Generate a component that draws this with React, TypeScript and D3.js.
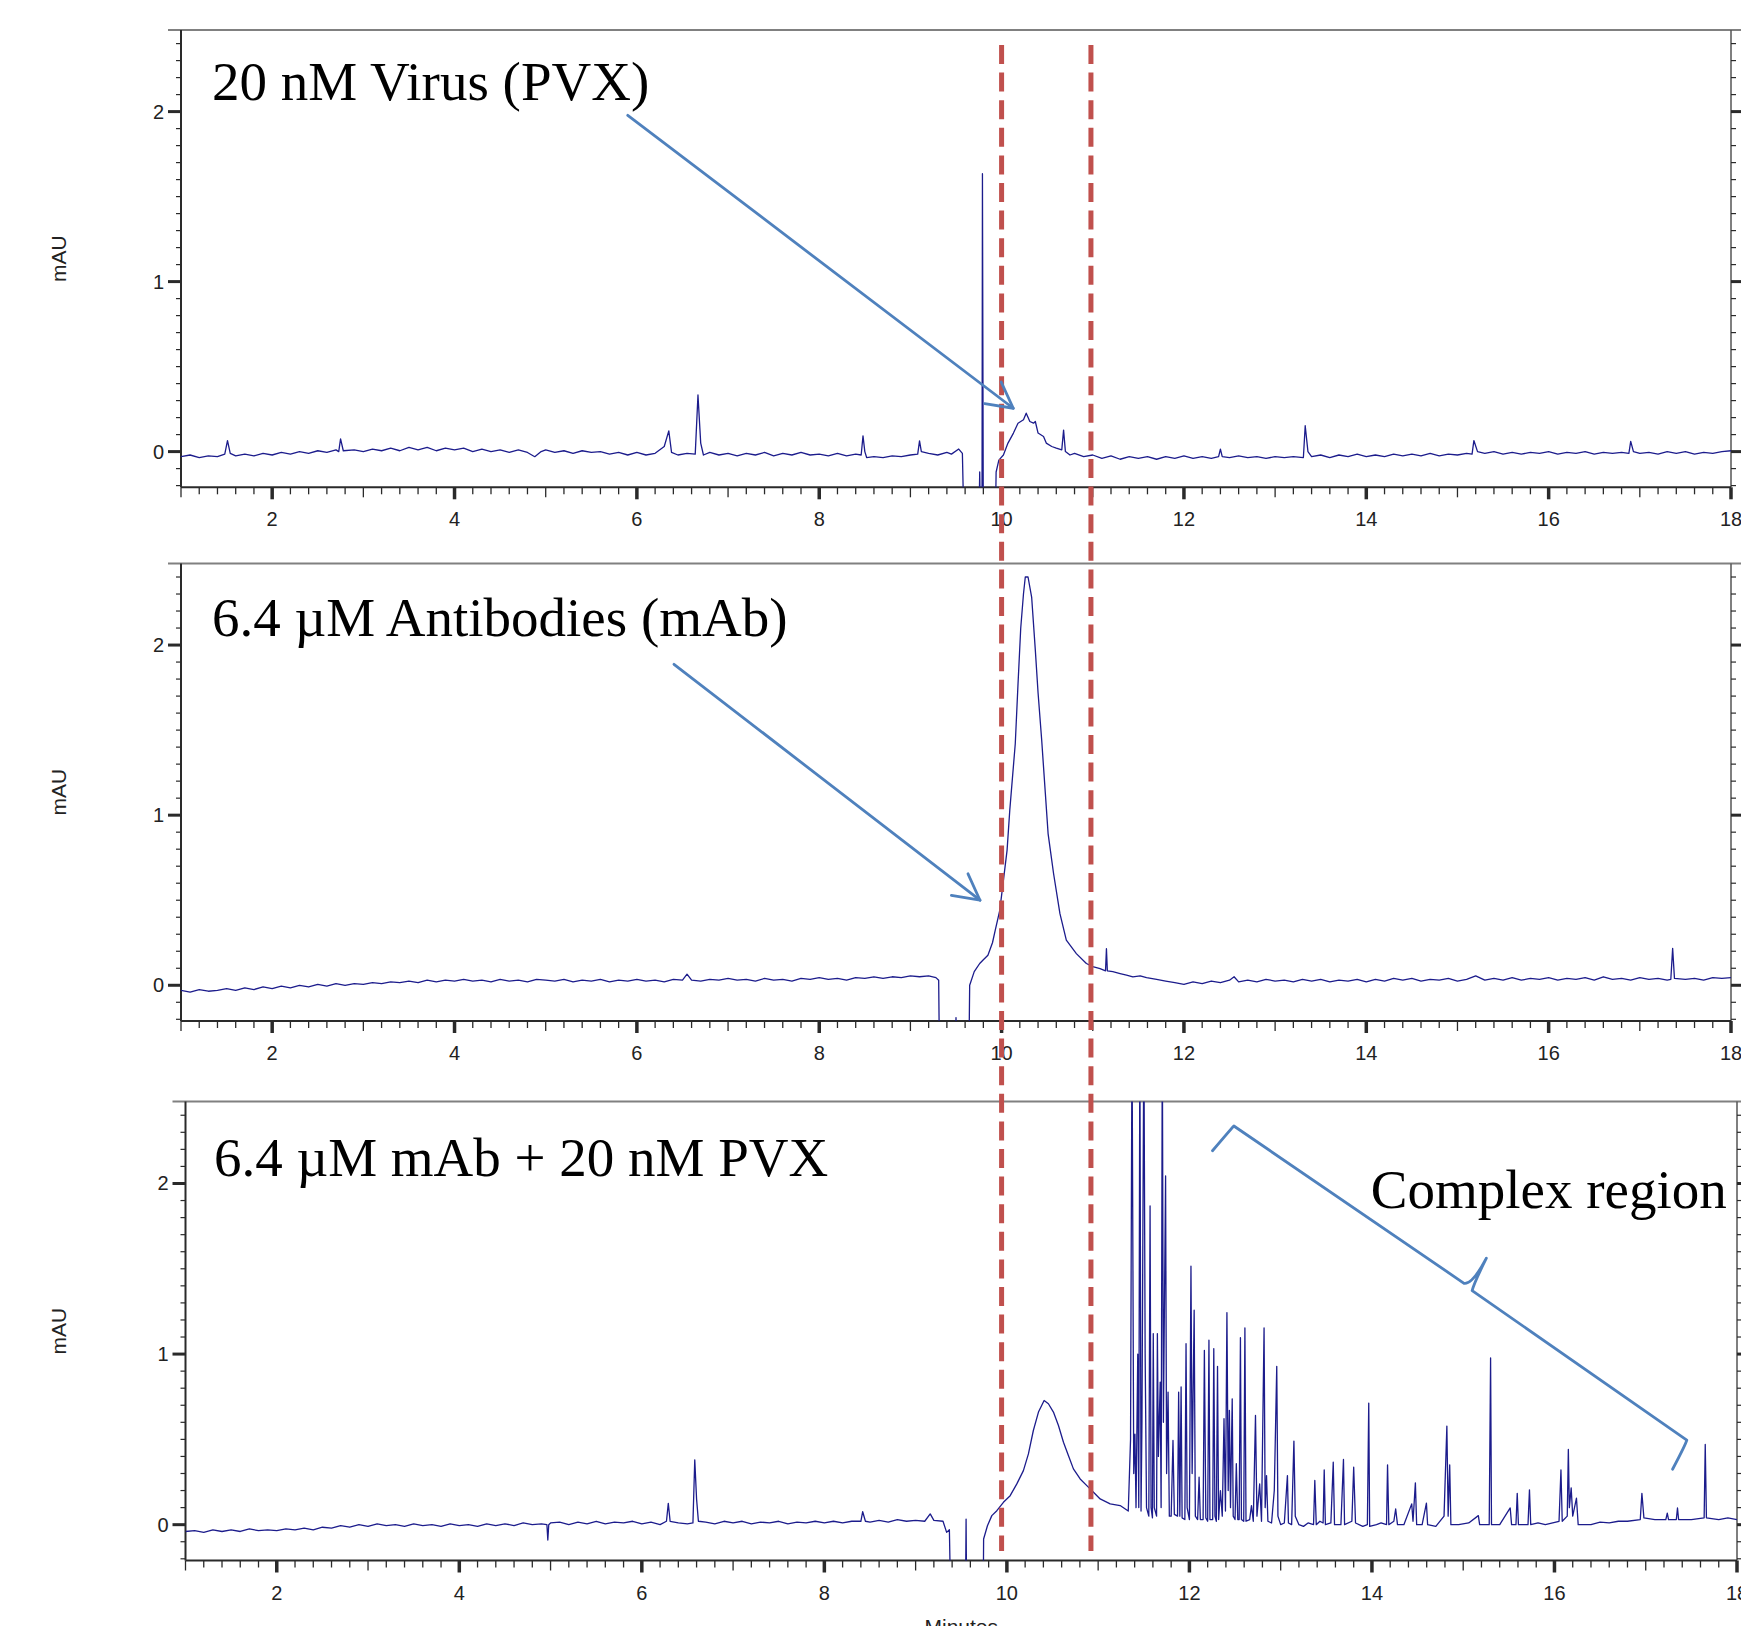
import React from "react"
import * as d3 from "d3"

const WIDTH = 1741
const HEIGHT = 1626

// retention time (min), absorbance (mAU)
const virusTrace: [number, number][] = [
  [1.0,-0.03],[1.1,-0.02],[1.2,-0.035],[1.3,-0.025],[1.4,-0.03],[1.48,-0.015],[1.51,0.065],[1.54,-0.01],[1.6,-0.025],[1.7,-0.015],
  [1.8,-0.025],[1.9,-0.01],[2.0,-0.02],[2.1,-0.005],[2.2,-0.015],[2.3,0.0],[2.4,-0.01],[2.5,0.005],[2.6,-0.005],[2.7,0.01],
  [2.73,0.0],[2.75,0.075],[2.78,0.005],[2.9,0.01],[3.0,0.0],[3.1,0.015],[3.2,0.005],[3.3,0.02],[3.4,0.005],[3.5,0.025],
  [3.6,0.01],[3.7,0.025],[3.8,0.005],[3.9,0.02],[4.0,0.01],[4.1,0.02],[4.2,0.0],[4.3,0.015],[4.4,0.0],[4.5,0.01],
  [4.6,-0.005],[4.7,0.01],[4.8,-0.005],[4.88,-0.03],[4.95,0.0],[5.0,0.01],[5.1,-0.005],[5.2,0.005],[5.3,-0.01],[5.4,0.005],
  [5.5,-0.005],[5.6,0.0],[5.7,-0.015],[5.8,-0.005],[5.9,-0.02],[6.0,-0.005],[6.1,-0.02],[6.2,-0.01],[6.3,0.03],[6.35,0.122],
  [6.38,-0.005],[6.45,-0.02],[6.55,-0.01],[6.64,-0.015],[6.67,0.333],[6.7,0.05],[6.73,-0.02],[6.8,-0.005],[6.9,-0.02],[7.0,-0.01],
  [7.1,-0.025],[7.2,-0.01],[7.3,-0.02],[7.4,-0.005],[7.5,-0.025],[7.6,-0.01],[7.7,-0.02],[7.8,-0.005],[7.9,-0.02],[8.0,-0.015],
  [8.1,-0.025],[8.2,-0.01],[8.3,-0.025],[8.4,-0.015],[8.46,-0.02],[8.48,0.093],[8.5,0.0],[8.52,-0.035],[8.6,-0.03],[8.7,-0.035],
  [8.8,-0.025],[8.9,-0.03],[9.0,-0.02],[9.08,-0.015],[9.1,0.063],[9.12,0.0],[9.2,-0.01],[9.3,-0.02],[9.4,-0.005],[9.45,-0.015],
  [9.53,0.015],[9.57,-0.01],[9.59,-0.5],[9.75,-0.5],[9.76,-0.12],[9.77,-0.5],[9.785,-0.5],[9.79,1.635],[9.8,-0.5],[9.93,-0.5],
  [9.94,-0.12],[9.97,-0.05],[10.02,-0.02],[10.07,0.05],[10.13,0.109],[10.18,0.167],[10.24,0.187],[10.27,0.226],[10.31,0.177],[10.35,0.167],
  [10.37,0.177],[10.4,0.109],[10.46,0.089],[10.49,0.05],[10.55,0.03],[10.6,0.02],[10.66,0.01],[10.68,0.126],[10.7,0.0],[10.75,-0.02],
  [10.8,-0.01],[10.9,-0.03],[11.0,-0.02],[11.1,-0.04],[11.2,-0.025],[11.3,-0.045],[11.4,-0.03],[11.5,-0.04],[11.6,-0.03],[11.7,-0.045],
  [11.8,-0.03],[11.9,-0.04],[12.0,-0.025],[12.1,-0.04],[12.2,-0.03],[12.3,-0.04],[12.38,-0.03],[12.4,0.014],[12.42,-0.03],[12.5,-0.035],
  [12.6,-0.025],[12.7,-0.035],[12.8,-0.03],[12.9,-0.04],[13.0,-0.03],[13.1,-0.035],[13.2,-0.03],[13.31,-0.035],[13.33,0.152],[13.36,0.0],
  [13.4,-0.03],[13.5,-0.02],[13.6,-0.035],[13.7,-0.02],[13.8,-0.03],[13.9,-0.015],[14.0,-0.03],[14.1,-0.02],[14.2,-0.03],[14.3,-0.015],
  [14.4,-0.025],[14.5,-0.015],[14.6,-0.025],[14.7,-0.01],[14.8,-0.025],[14.9,-0.015],[15.0,-0.02],[15.1,-0.01],[15.16,-0.015],[15.18,0.065],
  [15.22,0.0],[15.3,-0.01],[15.4,0.0],[15.5,-0.015],[15.6,-0.005],[15.7,-0.015],[15.8,-0.005],[15.9,-0.01],[16.0,0.0],[16.1,-0.015],
  [16.2,-0.005],[16.3,-0.01],[16.4,0.0],[16.5,-0.015],[16.6,-0.005],[16.7,-0.01],[16.8,-0.005],[16.88,-0.01],[16.9,0.06],[16.93,0.0],
  [17.0,-0.01],[17.1,-0.005],[17.2,-0.015],[17.3,0.0],[17.4,-0.01],[17.5,0.0],[17.6,-0.015],[17.7,-0.005],[17.8,-0.01],[17.9,0.0],[18.0,0.005],
]

const antibodyTrace: [number, number][] = [
  [1.0,-0.03],[1.1,-0.04],[1.2,-0.025],[1.3,-0.035],[1.4,-0.03],[1.5,-0.02],[1.6,-0.03],[1.7,-0.015],[1.8,-0.025],[1.9,-0.01],
  [2.0,-0.02],[2.1,-0.005],[2.2,-0.015],[2.3,0.0],[2.4,-0.01],[2.5,0.005],[2.6,-0.005],[2.7,0.01],[2.8,0.0],[2.9,0.01],
  [3.0,0.005],[3.1,0.015],[3.2,0.01],[3.3,0.02],[3.4,0.015],[3.5,0.025],[3.6,0.015],[3.7,0.03],[3.8,0.02],[3.9,0.03],
  [4.0,0.025],[4.1,0.035],[4.2,0.025],[4.3,0.03],[4.4,0.02],[4.5,0.035],[4.6,0.025],[4.7,0.03],[4.8,0.02],[4.9,0.035],
  [5.0,0.03],[5.1,0.025],[5.2,0.035],[5.3,0.02],[5.4,0.03],[5.5,0.025],[5.6,0.035],[5.7,0.02],[5.8,0.03],[5.9,0.025],
  [6.0,0.035],[6.1,0.025],[6.2,0.03],[6.3,0.02],[6.4,0.035],[6.5,0.03],[6.55,0.065],[6.6,0.03],[6.7,0.025],[6.8,0.035],
  [6.9,0.03],[7.0,0.04],[7.1,0.03],[7.2,0.035],[7.3,0.025],[7.4,0.04],[7.5,0.03],[7.6,0.035],[7.7,0.025],[7.8,0.04],
  [7.9,0.035],[8.0,0.045],[8.1,0.035],[8.2,0.04],[8.3,0.03],[8.4,0.045],[8.5,0.04],[8.6,0.05],[8.7,0.04],[8.8,0.05],
  [8.9,0.045],[9.0,0.055],[9.1,0.05],[9.2,0.055],[9.28,0.045],[9.31,0.03],[9.32,-0.5],[9.49,-0.5],[9.5,-0.19],[9.51,-0.5],
  [9.64,-0.5],[9.65,0.0],[9.7,0.08],[9.76,0.128],[9.8,0.15],[9.85,0.176],[9.9,0.25],[9.93,0.323],[9.98,0.44],[10.02,0.617],
  [10.06,0.793],[10.09,1.03],[10.15,1.42],[10.18,1.77],[10.21,2.1],[10.24,2.3],[10.26,2.4],[10.29,2.4],[10.33,2.28],[10.37,1.97],
  [10.4,1.72],[10.44,1.44],[10.48,1.127],[10.51,0.892],[10.57,0.657],[10.64,0.421],[10.71,0.265],[10.82,0.186],[10.93,0.128],[11.0,0.11],
  [11.08,0.098],[11.14,0.085],[11.15,0.215],[11.16,0.085],[11.22,0.08],[11.3,0.069],[11.37,0.06],[11.44,0.05],[11.52,0.055],[11.59,0.045],
  [11.7,0.035],[11.8,0.025],[11.9,0.015],[12.0,0.005],[12.1,0.02],[12.2,0.01],[12.3,0.025],[12.4,0.015],[12.5,0.03],[12.55,0.05],
  [12.6,0.02],[12.7,0.03],[12.8,0.02],[12.9,0.035],[13.0,0.025],[13.1,0.03],[13.2,0.02],[13.3,0.035],[13.4,0.025],[13.5,0.035],
  [13.6,0.02],[13.7,0.03],[13.8,0.025],[13.9,0.035],[14.0,0.02],[14.1,0.035],[14.2,0.025],[14.3,0.04],[14.4,0.03],[14.5,0.04],
  [14.6,0.025],[14.7,0.035],[14.8,0.03],[14.9,0.04],[15.0,0.025],[15.1,0.035],[15.2,0.055],[15.3,0.03],[15.4,0.04],[15.5,0.03],
  [15.6,0.045],[15.7,0.03],[15.8,0.04],[15.9,0.035],[16.0,0.045],[16.1,0.03],[16.2,0.04],[16.3,0.035],[16.4,0.045],[16.5,0.03],
  [16.6,0.05],[16.7,0.035],[16.8,0.04],[16.9,0.03],[17.0,0.045],[17.1,0.035],[17.2,0.04],[17.3,0.03],[17.34,0.035],[17.36,0.217],
  [17.38,0.04],[17.5,0.035],[17.6,0.04],[17.7,0.03],[17.8,0.045],[17.9,0.04],[18.0,0.045],
]

const mixtureTrace: [number, number][] = [
  [1.0,-0.04],[1.1,-0.035],[1.2,-0.045],[1.3,-0.03],[1.4,-0.04],[1.5,-0.03],[1.6,-0.04],[1.7,-0.025],[1.8,-0.035],[1.9,-0.03],
  [2.0,-0.035],[2.1,-0.025],[2.2,-0.03],[2.3,-0.02],[2.4,-0.03],[2.5,-0.015],[2.6,-0.02],[2.7,-0.005],[2.8,-0.015],[2.9,0.0],
  [3.0,-0.01],[3.1,0.005],[3.2,-0.005],[3.3,0.0],[3.4,-0.01],[3.5,0.005],[3.6,-0.005],[3.7,0.0],[3.8,-0.01],[3.9,0.005],
  [4.0,-0.005],[4.1,0.0],[4.2,-0.01],[4.3,0.005],[4.4,-0.005],[4.5,0.005],[4.6,-0.005],[4.7,0.01],[4.8,0.0],[4.9,0.005],
  [4.96,0.0],[4.97,-0.09],[4.98,0.0],[5.0,0.01],[5.1,0.015],[5.2,0.0],[5.3,0.015],[5.4,0.005],[5.5,0.02],[5.6,0.005],
  [5.7,0.015],[5.8,0.01],[5.9,0.02],[6.0,0.005],[6.1,0.015],[6.2,0.0],[6.27,0.02],[6.29,0.125],[6.31,0.02],[6.4,0.01],
  [6.5,0.005],[6.56,0.01],[6.58,0.38],[6.6,0.15],[6.62,0.02],[6.7,0.015],[6.8,0.005],[6.9,0.02],[7.0,0.01],[7.1,0.02],
  [7.2,0.005],[7.3,0.015],[7.4,0.01],[7.5,0.02],[7.6,0.005],[7.7,0.015],[7.8,0.01],[7.9,0.02],[8.0,0.01],[8.1,0.02],
  [8.2,0.01],[8.3,0.02],[8.4,0.02],[8.42,0.076],[8.45,0.02],[8.5,0.015],[8.6,0.025],[8.7,0.015],[8.8,0.03],[8.9,0.02],
  [9.0,0.025],[9.1,0.02],[9.16,0.063],[9.2,0.025],[9.3,0.02],[9.34,-0.045],[9.37,-0.03],[9.386,-0.5],[9.545,-0.5],[9.553,0.033],
  [9.56,-0.5],[9.74,-0.5],[9.745,-0.084],[9.787,-0.006],[9.835,0.053],[9.89,0.082],[9.962,0.131],[10.036,0.17],[10.109,0.239],[10.181,0.317],
  [10.236,0.415],[10.29,0.552],[10.346,0.66],[10.408,0.728],[10.455,0.709],[10.51,0.66],[10.565,0.581],[10.62,0.483],[10.674,0.405],[10.729,0.327],
  [10.803,0.268],[10.876,0.229],[10.949,0.19],[11.022,0.151],[11.132,0.122],[11.241,0.112],[11.33,0.08],
  [11.355,0.5],[11.371,2.9],[11.39,0.3],[11.403,0.53],[11.415,0.1],[11.434,1.0],[11.445,0.1],[11.457,2.9],[11.47,0.08],[11.48,0.6],
  [11.501,2.9],[11.515,1.0],[11.53,0.1],[11.555,0.05],[11.569,1.868],[11.58,0.1],[11.595,0.04],[11.604,1.12],[11.615,0.1],[11.64,0.05],
  [11.649,1.12],[11.66,0.4],[11.68,0.836],[11.69,0.1],[11.703,2.9],[11.715,0.6],[11.739,2.044],[11.75,0.3],[11.766,0.777],[11.78,0.05],
  [11.8,0.05],[11.82,0.494],[11.835,0.06],[11.87,0.05],[11.882,0.777],[11.895,0.05],[11.909,0.807],[11.92,0.04],[11.95,0.03],[11.963,1.061],
  [11.975,0.1],[12.0,0.03],[12.017,1.515],[12.03,0.3],[12.052,1.257],[12.065,0.05],[12.09,0.03],[12.106,0.278],[12.12,0.03],[12.15,0.03],
  [12.164,1.022],[12.18,0.04],[12.2,0.02],[12.214,1.081],[12.225,0.03],[12.255,0.03],[12.267,1.032],[12.28,0.05],[12.295,0.02],[12.308,0.928],
  [12.32,0.03],[12.34,0.2],[12.36,0.05],[12.379,0.621],[12.395,0.08],[12.411,1.243],[12.425,0.2],[12.438,0.67],[12.45,0.1],[12.469,0.738],
  [12.48,0.05],[12.5,0.03],[12.514,0.357],[12.53,0.03],[12.545,0.03],[12.559,1.096],[12.57,0.03],[12.595,0.02],[12.608,1.153],[12.62,0.02],
  [12.66,0.03],[12.68,0.112],[12.7,0.02],[12.724,0.64],[12.74,0.05],[12.77,0.239],[12.79,0.02],[12.818,1.153],[12.83,0.1],[12.845,0.288],
  [12.86,0.02],[12.9,0.01],[12.93,0.2],[12.957,0.928],[12.97,0.05],[13.0,0.0],[13.04,0.01],[13.074,0.288],[13.085,0.01],[13.12,0.0],
  [13.145,0.49],[13.16,0.05],[13.2,0.0],[13.25,-0.01],[13.3,0.01],[13.36,0.0],[13.374,0.259],[13.39,0.0],[13.43,0.02],[13.465,0.01],
  [13.477,0.321],[13.49,0.0],[13.55,0.01],[13.576,0.366],[13.59,0.0],[13.66,0.0],[13.688,0.382],[13.7,0.0],[13.78,0.02],[13.8,0.337],
  [13.82,0.01],[13.9,-0.01],[13.95,0.0],[13.965,0.713],[13.975,-0.01],[14.05,0.0],[14.1,0.01],[14.16,0.0],[14.171,0.351],[14.185,0.0],
  [14.24,0.02],[14.26,0.092],[14.28,0.0],[14.35,0.0],[14.436,0.122],[14.45,0.02],[14.476,0.245],[14.49,0.0],[14.55,0.0],[14.597,0.126],
  [14.61,0.0],[14.7,-0.01],[14.79,0.05],[14.821,0.578],[14.835,0.05],[14.852,0.351],[14.865,0.0],[14.95,0.0],[15.06,0.01],[15.166,0.053],
  [15.18,0.0],[15.285,0.0],[15.3,0.977],[15.31,0.0],[15.4,0.0],[15.515,0.098],[15.53,0.0],[15.578,0.0],[15.592,0.184],[15.605,0.0],
  [15.71,0.0],[15.726,0.204],[15.74,0.0],[15.82,0.01],[15.9,0.0],[16.05,0.02],[16.071,0.321],[16.085,0.02],[16.14,0.05],[16.152,0.441],
  [16.163,0.1],[16.183,0.216],[16.2,0.05],[16.241,0.155],[16.26,0.0],[16.4,0.0],[16.5,0.015],[16.6,0.01],[16.7,0.02],[16.8,0.02],
  [16.94,0.03],[16.958,0.184],[16.98,0.04],[17.1,0.03],[17.22,0.03],[17.236,0.067],[17.25,0.03],[17.335,0.03],[17.348,0.098],[17.36,0.03],
  [17.5,0.03],[17.64,0.04],[17.652,0.47],[17.665,0.04],[17.8,0.03],[17.9,0.04],[18.0,0.03],
]

const traces = [virusTrace, antibodyTrace, mixtureTrace]
const panelTitles = ["20 nM Virus (PVX)", "6.4 µM Antibodies (mAb)", "6.4 µM mAb + 20 nM PVX"]
const timeDomain: [number, number] = [1, 18]
const mauDomain: [number, number] = [-0.21, 2.48]
const xTickLabels = [2, 4, 6, 8, 10, 12, 14, 16, 18]
const yTickLabels = [0, 1, 2]
const markerTimes = [10.0, 10.98]

// annotations, in each panel's data units
const arrows = [
  { panel: 0, from: [5.9, 1.978], to: [10.128, 0.255] },
  { panel: 1, from: [6.407, 1.887], to: [9.763, 0.5] },
]
const braceAnchors: [number, number][] = [
  [12.253, 2.192], [12.487, 2.337], [15.009, 1.415], [15.098, 1.405], [15.254, 1.562],
  [15.119, 1.417], [15.098, 1.372], [17.45, 0.496], [17.294, 0.325],
]
const braceLabel = { text: "Complex region", at: [13.987, 1.854] }

const layout = [
  { left: 181, right: 1731, top: 30, bottom: 487.3, titleY: 100, titleX: 212 },
  { left: 181, right: 1731, top: 563.4, bottom: 1021, titleY: 636, titleX: 212 },
  { left: 185.5, right: 1737, top: 1101.6, bottom: 1560.5, titleY: 1176, titleX: 214 },
]

const SANS = "'Liberation Sans', Arial, sans-serif"
const SERIF = "'Liberation Serif', 'Times New Roman', serif"
const TRACE = "#1c1c8c"
const NOTE = "#4f81bd"
const MARK = "#c0504d"

function scalesFor(i: number) {
  const L = layout[i]
  const x = d3.scaleLinear().domain(timeDomain).range([L.left, L.right])
  const y = d3.scaleLinear().domain(mauDomain).range([L.bottom, L.top])
  return { x, y }
}

function Panel({ i }: { i: number }) {
  const L = layout[i]
  const { x, y } = scalesFor(i)
  const line = d3.line<[number, number]>().x(d => x(d[0])).y(d => y(d[1]))
  const yTicks = d3.range(-2, 25).map(k => k / 10)
  const xTicks = d3.range(5, 91).map(k => k / 5)
  const axisColor = "#2a2a2a"

  return (
    <g>
      <defs>
        <clipPath id={`clip${i}`}>
          <rect x={L.left} y={L.top} width={L.right - L.left} height={L.bottom - L.top} />
        </clipPath>
      </defs>
      {/* frame */}
      <line x1={L.left - 13} x2={WIDTH} y1={L.top} y2={L.top} stroke="#808080" strokeWidth={2} />
      <line x1={L.right} x2={L.right} y1={L.top} y2={L.bottom} stroke="#555" strokeWidth={1.5} />
      <line x1={L.left} x2={L.left} y1={L.top} y2={L.bottom} stroke={axisColor} strokeWidth={2} />
      <line x1={L.left} x2={L.right} y1={L.bottom} y2={L.bottom} stroke={axisColor} strokeWidth={2} />

      {yTicks.map(v => {
        const major = Math.abs(v - Math.round(v)) < 1e-6
        const len = major ? 13 : 5
        return (
          <g key={v}>
            <line x1={L.left - len} x2={L.left} y1={y(v)} y2={y(v)} stroke={axisColor} strokeWidth={major ? 3 : 1.2} />
            <line x1={L.right} x2={L.right + len} y1={y(v)} y2={y(v)} stroke={axisColor} strokeWidth={major ? 3 : 1.2} />
          </g>
        )
      })}
      {yTickLabels.map(v => (
        <text key={v} x={L.left - 17} y={y(v)} dy="0.35em" textAnchor="end" fontFamily={SANS} fontSize={20} fill="#222">{v}</text>
      ))}

      {xTicks.map(t => {
        const isInt = Math.abs(t - Math.round(t)) < 1e-6
        const even = isInt && Math.round(t) % 2 === 0
        const len = even ? 12 : isInt ? 10 : 7
        return (
          <line key={t} x1={x(t)} x2={x(t)} y1={L.bottom} y2={L.bottom + len} stroke={axisColor} strokeWidth={even ? 3.5 : 1.3} />
        )
      })}
      {xTickLabels.map(t => (
        <text key={t} x={x(t)} y={L.bottom + 39} textAnchor="middle" fontFamily={SANS} fontSize={20} fill="#222">{t}</text>
      ))}

      <text transform={`translate(59,${(L.top + L.bottom) / 2}) rotate(-90)`} textAnchor="middle" dy="0.35em"
        fontFamily={SANS} fontSize={21} fill="#222">mAU</text>

      <path d={line(traces[i]) || ""} fill="none" stroke={TRACE} strokeWidth={1.3} strokeLinejoin="round" clipPath={`url(#clip${i})`} />

      <text x={L.titleX} y={L.titleY} fontFamily={SERIF} fontSize={55} fill="#000">{panelTitles[i]}</text>
    </g>
  )
}

function Arrow({ a }: { a: { panel: number, from: number[], to: number[] } }) {
  const { x, y } = scalesFor(a.panel)
  const x1 = x(a.from[0]), y1 = y(a.from[1])
  const x2 = x(a.to[0]), y2 = y(a.to[1])
  const ang = Math.atan2(y2 - y1, x2 - x1)
  const head = 29, spread = (28 * Math.PI) / 180
  const h1 = [x2 - head * Math.cos(ang - spread), y2 - head * Math.sin(ang - spread)]
  const h2 = [x2 - head * Math.cos(ang + spread), y2 - head * Math.sin(ang + spread)]
  return (
    <g stroke={NOTE} strokeWidth={2.8} fill="none" strokeLinecap="round" strokeLinejoin="round">
      <line x1={x1} y1={y1} x2={x2} y2={y2} />
      <polyline points={`${h1[0]},${h1[1]} ${x2},${y2} ${h2[0]},${h2[1]}`} />
    </g>
  )
}

function Brace() {
  const { x, y } = scalesFor(2)
  const p = braceAnchors.map(d => [x(d[0]), y(d[1])])
  const d = `M${p[0]} Q${p[1][0] - 2},${p[1][1] + 2} ${p[1]} L${p[2]} Q${p[3]} ${p[4]} Q${p[5]} ${p[6]} L${p[7]} Q${p[7][0] - 1},${p[7][1] + 4} ${p[8]}`
  return (
    <g>
      <path d={d} fill="none" stroke={NOTE} strokeWidth={2.8} strokeLinejoin="round" strokeLinecap="round" />
      <text x={x(braceLabel.at[0])} y={y(braceLabel.at[1])} fontFamily={SERIF} fontSize={55} fill="#000">{braceLabel.text}</text>
    </g>
  )
}

export default function App() {
  const top = scalesFor(0)
  const bottomAxis = scalesFor(2).x
  return (
    <svg width={WIDTH} height={HEIGHT} style={{ position: "absolute", left: 0, top: 0, background: "#fff" }}>
      <rect width={WIDTH} height={HEIGHT} fill="#fff" />
      {layout.map((_, i) => <Panel key={i} i={i} />)}
      {markerTimes.map(t => (
        <line key={t} x1={top.x(t)} x2={top.x(t)} y1={45} y2={1551} stroke={MARK} strokeWidth={5} strokeDasharray="19 8.6" />
      ))}
      {arrows.map((a, k) => <Arrow key={k} a={a} />)}
      <Brace />
      <text x={(bottomAxis.range()[0] + bottomAxis.range()[1]) / 2} y={1634} textAnchor="middle" fontFamily={SANS} fontSize={21} fill="#222">Minutes</text>
    </svg>
  )
}
